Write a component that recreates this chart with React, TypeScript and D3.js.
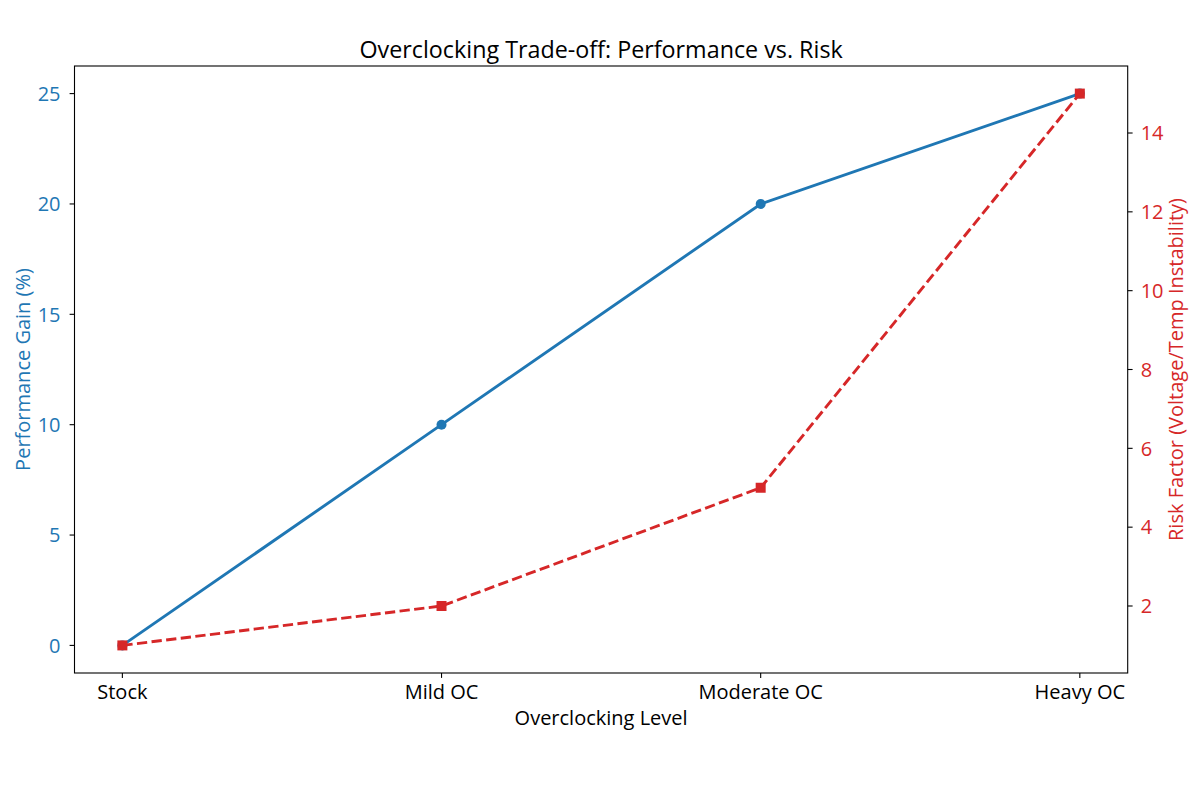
import React from "react";
import * as d3 from "d3";

const categories = ["Stock", "Mild OC", "Moderate OC", "Heavy OC"];
const performance = [0, 10, 20, 25];
const risk = [1, 2, 5, 15];
const leftTicks = [0, 5, 10, 15, 20, 25];
const rightTicks = [2, 4, 6, 8, 10, 12, 14];

const W = 1200, H = 800;
const L = 74.5, R = 1127.7, T = 66, B = 673;
const BLUE = "#1f77b4", RED = "#d62728";
const FONT = "'Open Sans', 'Noto Sans', sans-serif";
const FS = 20;

export default function App() {
  const x = d3.scaleLinear().domain([-0.15, 3.15]).range([L, R]);
  const yL = d3.scaleLinear().domain([-1.25, 26.25]).range([B, T]);
  const yR = d3.scaleLinear().domain([0.3, 15.7]).range([B, T]);
  const idx = categories.map((_, i) => i);
  const lineL = d3.line<number>().x((i) => x(i)).y((i) => yL(performance[i]));
  const lineR = d3.line<number>().x((i) => x(i)).y((i) => yR(risk[i]));
  const ms = 10;
  return (
    <svg width={W} height={H} style={{ display: "block", position: "absolute", left: 0, top: 0 }} fontFamily={FONT}>
      <rect width={W} height={H} fill="#fff" />
      <text x={(L + R) / 2} y={58} textAnchor="middle" fontSize={23.3} fill="#000">
        Overclocking Trade-off: Performance vs. Risk
      </text>
      {/* lines */}
      <path d={lineL(idx) || ""} fill="none" stroke={BLUE} strokeWidth={2.9} />
      {idx.map((i) => (
        <circle key={"c" + i} cx={x(i)} cy={yL(performance[i])} r={ms / 2} fill={BLUE} />
      ))}
      <path d={lineR(idx) || ""} fill="none" stroke={RED} strokeWidth={2.9} strokeDasharray="10.3,4.4" />
      {idx.map((i) => (
        <rect key={"s" + i} x={x(i) - ms / 2} y={yR(risk[i]) - ms / 2} width={ms} height={ms} fill={RED} />
      ))}
      {/* frame */}
      <rect x={L} y={T} width={R - L} height={B - T} fill="none" stroke="#000" strokeWidth={1.1} />
      {/* x ticks */}
      {categories.map((c, i) => (
        <g key={c}>
          <line x1={x(i)} x2={x(i)} y1={B} y2={B + 4.9} stroke="#000" strokeWidth={1.1} />
          <text x={x(i)} y={B + 26} textAnchor="middle" fontSize={FS} fill="#000">{c}</text>
        </g>
      ))}
      <text x={(L + R) / 2} y={725} textAnchor="middle" fontSize={FS} fill="#000">Overclocking Level</text>
      {/* left ticks */}
      {leftTicks.map((t) => (
        <g key={"l" + t}>
          <line x1={L - 4.9} x2={L} y1={yL(t)} y2={yL(t)} stroke="#000" strokeWidth={1.1} />
          <text x={L - 14} y={yL(t)} dy="0.36em" textAnchor="end" fontSize={FS} fill={BLUE}>{t}</text>
        </g>
      ))}
      <text transform={`translate(30,${(T + B) / 2}) rotate(-90)`} textAnchor="middle" fontSize={FS} fill={BLUE}>
        Performance Gain (%)
      </text>
      {/* right ticks */}
      {rightTicks.map((t) => (
        <g key={"r" + t}>
          <line x1={R} x2={R + 4.9} y1={yR(t)} y2={yR(t)} stroke="#000" strokeWidth={1.1} />
          <text x={R + 13} y={yR(t)} dy="0.36em" textAnchor="start" fontSize={FS} fill={RED}>{t}</text>
        </g>
      ))}
      <text transform={`translate(1183,${(T + B) / 2}) rotate(-90)`} textAnchor="middle" fontSize={FS} fill={RED}>
        Risk Factor (Voltage/Temp Instability)
      </text>
    </svg>
  );
}
